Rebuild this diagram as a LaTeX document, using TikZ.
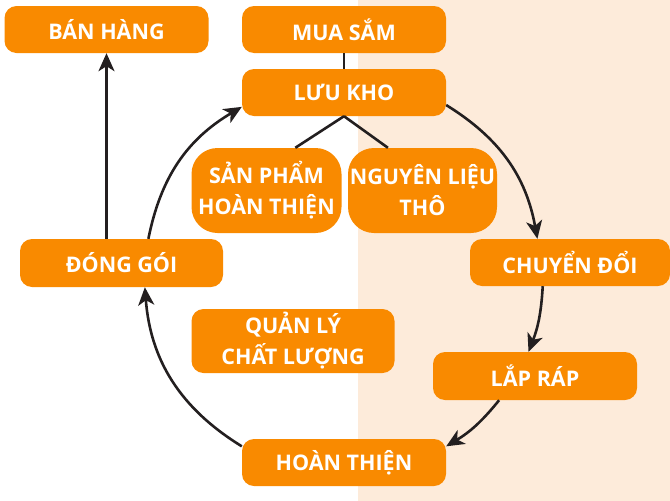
\documentclass[tikz,border=0pt]{standalone}
\usepackage{fontspec}
\setmainfont{Open Sans}
\usepackage{tikz}
\usetikzlibrary{arrows.meta,calc}
\definecolor{cam}{HTML}{F98A00}
\definecolor{nen}{HTML}{FDEBDA}
\definecolor{muc}{HTML}{231F20}

\begin{document}
\begin{tikzpicture}[x=1pt,y=1pt,
  hop/.style={fill=cam,rounded corners=12pt,text=white,font=\bfseries\fontsize{21.5}{31}\selectfont,
    minimum width=204pt,minimum height=47pt,inner sep=0pt,align=center},
  tron/.style={hop,rounded corners=26pt,minimum width=150pt,minimum height=85pt},
  noi/.style={draw=muc,line width=2.6pt},
  muiten/.style={noi,-{Stealth[length=18pt,width=16pt,inset=5pt]}}]
\useasboundingbox (0,0) rectangle (670,-501);
\fill[nen] (358,0) rectangle (670,-501);
% cac o
\node[hop] (bh) at (106.5,-29.5) {BÁN HÀNG};
\node[hop] (ms) at (344,-29.5) {MUA SẮM};
\node[hop] (lk) at (344,-92.5) {LƯU KHO};
\node[tron] (sp) at (266.5,-190.5) {SẢN PHẨM\\HOÀN THIỆN};
\node[tron,minimum width=149pt] (nl) at (422.5,-190.5) {NGUYÊN LIỆU\\THÔ};
\node[hop,minimum width=200pt] (cd) at (570,-262.5) {CHUYỂN ĐỔI};
\node[hop,minimum width=203pt,minimum height=48pt] (dg) at (121.5,-263) {ĐÓNG GÓI};
\node[hop,minimum width=203pt,minimum height=64pt] (ql) at (293,-341) {QUẢN LÝ\\CHẤT LƯỢNG};
\node[hop,minimum height=48pt] (lr) at (535,-376) {LẮP RÁP};
\node[hop] (ht) at (344,-462.5) {HOÀN THIỆN};
% duong noi
\draw[noi] (ms) -- (lk);
\draw[noi] (lk.south) -- (sp.56);
\draw[noi] (lk.south) -- (nl.129);
\draw[muiten] (dg.north -| bh.south) -- (bh.south);
% vong tron
\draw[muiten] (lk.-7.5) to[bend left=24] (cd.144);
\draw[muiten] (cd.221) to[bend left=9] (lr.105);
\draw[muiten] (lr.214) to[bend left=10] (ht.9);
\draw[muiten] (ht.171) to[bend left=27] (dg.-46);
\draw[muiten] (dg.42) to[bend left=24] (lk.188);
\end{tikzpicture}
\end{document}
